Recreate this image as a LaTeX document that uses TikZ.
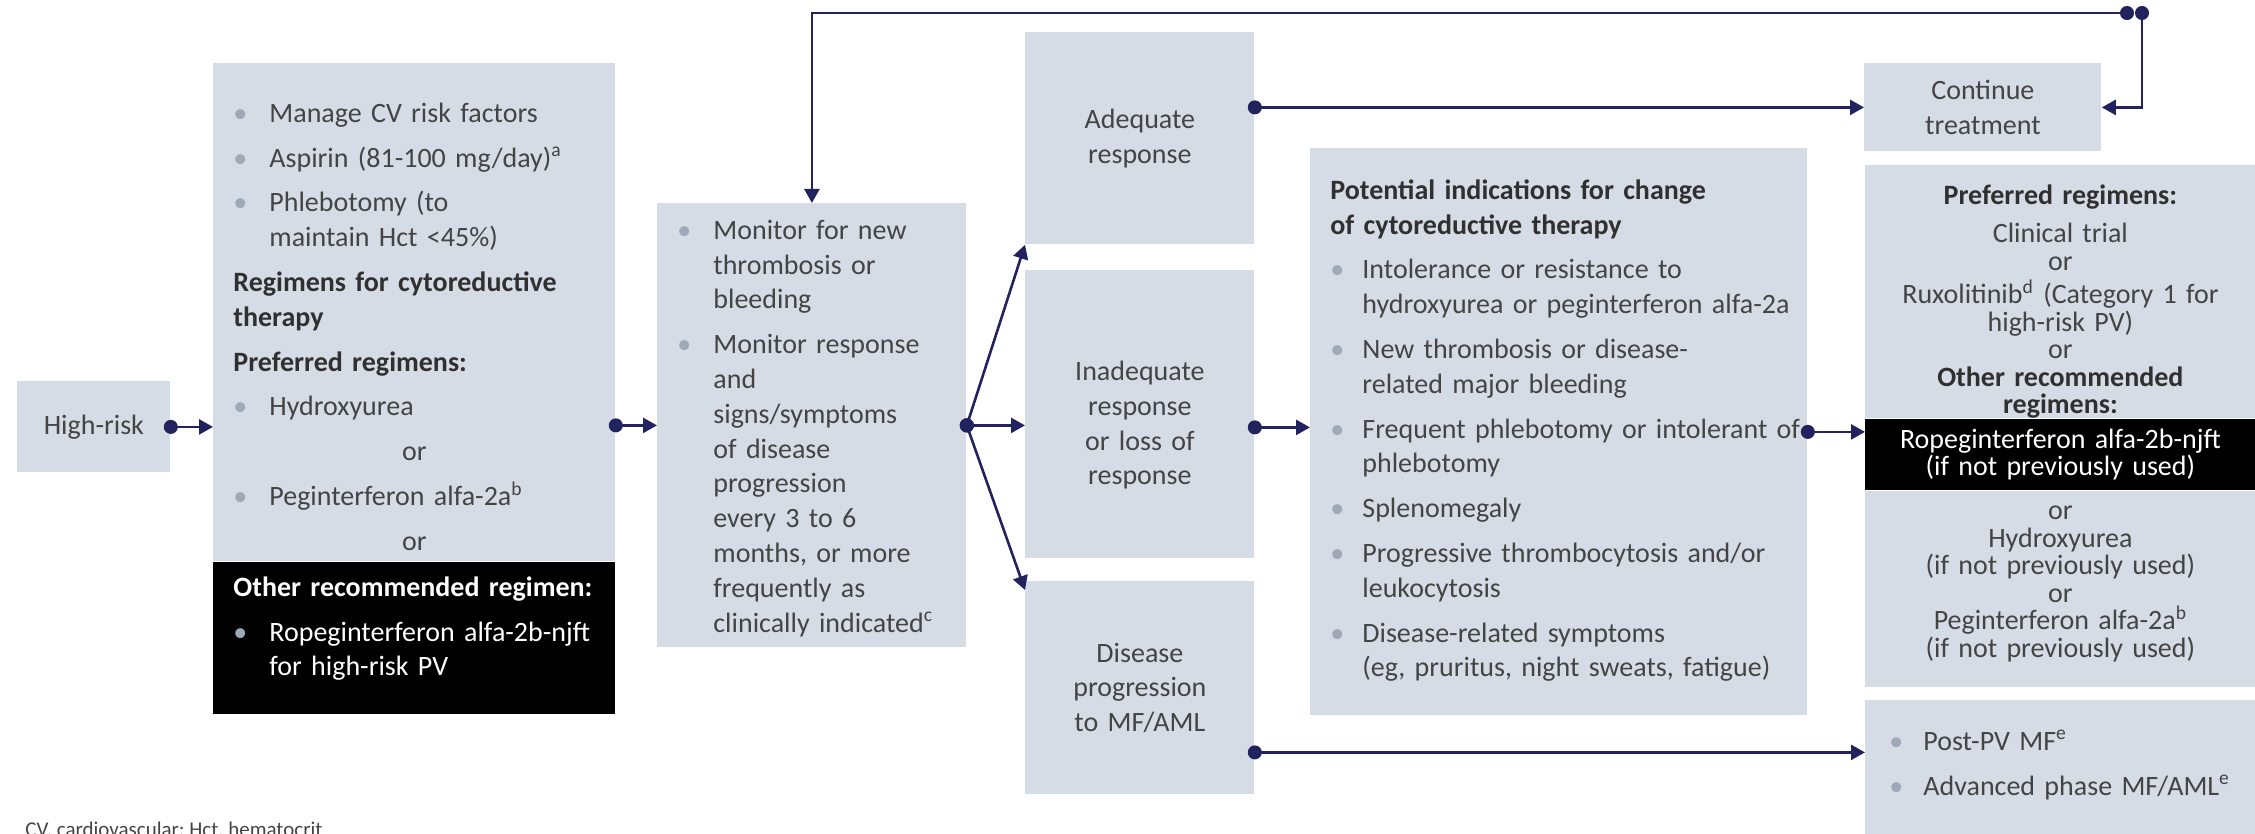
\documentclass[tikz,border=0pt]{standalone}
\usepackage{fontspec}
\setmainfont{Carlito}
\usetikzlibrary{arrows.meta,positioning}

\definecolor{navy}{RGB}{34,35,94}
\definecolor{boxfill}{HTML}{D6DCE5}
\definecolor{txtgray}{HTML}{444444}
\definecolor{hdgray}{HTML}{303030}
\definecolor{bulgray}{HTML}{9EA8B6}

\newcommand{\bodyfont}{\fontsize{14pt}{17.4pt}\selectfont}
\newcommand{\regfont}{\fontsize{14pt}{13.75pt}\selectfont}
\newlength{\bulind}\setlength{\bulind}{18pt}
\newlength{\boxpad}\setlength{\boxpad}{10pt}
\newcommand{\bul}[1]{\parskip=5pt\leftskip=\boxpad\hangindent=\bulind\hangafter=1\noindent\makebox[\bulind][l]{\textcolor{bulgray}{\textbullet}}#1\par}
\newcommand{\hdg}[1]{\parskip=5pt\leftskip=\boxpad\noindent{\bfseries\color{hdgray}#1}\par}
\newcommand{\orline}{{\centering or\par}}

\begin{document}
\begin{tikzpicture}[x=0.5pt, y=-0.5pt,
  box/.style={fill=boxfill, inner sep=0pt, text=txtgray, font=\bodyfont, align=left},
  sized/.style 2 args={text width=#1, minimum width=#1, minimum height=#2},
  tsized/.style n args={3}{text width=#1, minimum width=#1, text height=#2, text depth=#3},
  conn/.style={draw=navy, line width=1.3pt, {Circle[length=7pt]}-{Triangle[length=7pt,width=7.5pt]}, shorten <=-3.5pt}]
\useasboundingbox (0,0) rectangle (2255,834);

% left column
\node[box, align=center, sized={76.5pt}{45.5pt}, anchor=north west] (highrisk) at (17,381) {High-risk};
\node[box, tsized={201pt}{29.5pt}{219.5pt}, anchor=north west] (mgmt) at (213,63) {%
  \bul{Manage CV risk factors}
  \bul{Aspirin (81-100 mg/day)\textsuperscript{a}}
  \bul{Phlebotomy (to\newline maintain Hct <45\%)}
  \hdg{Regimens for cytoreductive\newline therapy}
  \hdg{Preferred regimens:}
  \bul{Hydroxyurea}
  \orline
  \bul{Peginterferon alfa-2a\textsuperscript{b}}
  \orline};
\node[box, fill=black, text=white, tsized={201pt}{17pt}{59pt}, below=0pt of mgmt] (mgmtalt) {%
  \hdg{\color{white}Other recommended regimen:}
  \bul{Ropeginterferon alfa-2b-njft\newline for high-risk PV}};

\node[box, tsized={154.5pt}{18pt}{204pt}, anchor=north west] (monitor) at (657,203) {%
  \bul{Monitor for new\newline thrombosis or\newline bleeding}
  \bul{Monitor response\newline and\newline signs/symptoms\newline of disease\newline progression\newline every 3 to 6\newline months, or more\newline frequently as\newline clinically indicated\textsuperscript{c}}};

% responses
\node[box, align=center, sized={114.5pt}{106pt}, anchor=north west] (adequate) at (1025,32) {Adequate\\response};
\node[box, align=center, tsized={114.5pt}{55pt}{89pt}, anchor=north west] (inadequate) at (1025,270) {Inadequate\\response\\or loss of\\response};
\node[box, align=center, sized={114.5pt}{106.5pt}, anchor=north west] (progress) at (1025,581) {Disease\\progression\\to MF/AML};

\node[box, tsized={248.5pt}{25.5pt}{258pt}, anchor=north west] (indications) at (1310,148) {%
  \setlength{\bulind}{16pt}%
  \hdg{Potential indications for change\newline of cytoreductive therapy}
  \bul{Intolerance or resistance to\newline hydroxyurea or peginterferon alfa-2a}
  \bul{New thrombosis or disease-\newline related major bleeding}
  \bul{Frequent phlebotomy or intolerant of\newline phlebotomy}
  \bul{Splenomegaly}
  \bul{Progressive thrombocytosis and/or\newline leukocytosis}
  \bul{Disease-related symptoms\newline (eg, pruritus, night sweats, fatigue)}};

% right column
\node[box, align=center, sized={118.5pt}{44pt}, anchor=north west] (continue) at (1864,63) {Continue\\treatment};
\node[box, align=center, font=\regfont, tsized={195pt}{19.5pt}{107pt}, anchor=north west] (regtop) at (1865,165) {%
  {\bfseries\color{hdgray}Preferred regimens:}\\[5.5pt]
  Clinical trial\\
  or\\[3pt]
  Ruxolitinib\textsuperscript{d} (Category 1 for\\
  high-risk PV)\\
  or\\
  {\bfseries\color{hdgray}Other recommended\\regimens:}};
\node[box, align=center, font=\regfont, fill=black, text=white, sized={195pt}{35.5pt}, below=0pt of regtop] (regband) {%
  Ropeginterferon alfa-2b-njft\\(if not previously used)};
\node[box, align=center, font=\regfont, tsized={195pt}{14.25pt}{83.75pt}, below=0pt of regband] (regbot) {%
  or\\Hydroxyurea\\(if not previously used)\\or\\Peginterferon alfa-2a\textsuperscript{b}\\(if not previously used)};
\node[box, tsized={195pt}{25pt}{42pt}, anchor=north west] (mfbox) at (1865,700) {%
  \setlength{\boxpad}{12pt}\setlength{\bulind}{17pt}%
  \bul{Post-PV MF\textsuperscript{e}}
  \bul{Advanced phase MF/AML\textsuperscript{e}}};

\node[anchor=base west, inner sep=0pt, text=txtgray, font=\fontsize{10.5pt}{12pt}\selectfont] (abbrev) at (25,836) {CV, cardiovascular; Hct, hematocrit};

% connectors
\draw[conn] (highrisk.east) -- (highrisk.east -| mgmt.west);
\draw[conn] (monitor.west -| mgmt.east) -- (monitor.west);
\draw[conn] (monitor.east) -- (adequate.south west);
\draw[conn] (monitor.east) -- (monitor.east -| inadequate.west);
\draw[conn] (monitor.east) -- ([yshift=-4.5pt]progress.north west);
\draw[conn] (continue.west -| adequate.east) -- (continue.west);
\draw[conn] ([yshift=-6.5pt]inadequate.east) -- ([yshift=-6.5pt]inadequate.east -| indications.west);
\draw[conn] (indications.east) -- (indications.east -| regband.west);
\coordinate (mfin) at ([yshift=7.5pt]mfbox.west);
\draw[conn] (mfin -| progress.east) -- (mfin);
\coordinate (loopa) at (2127,13);
\coordinate (loopb) at (2142,13);
\draw[conn] (loopa) -| (monitor.north);
\draw[conn] (loopb) |- (continue.east);
\end{tikzpicture}
\end{document}
